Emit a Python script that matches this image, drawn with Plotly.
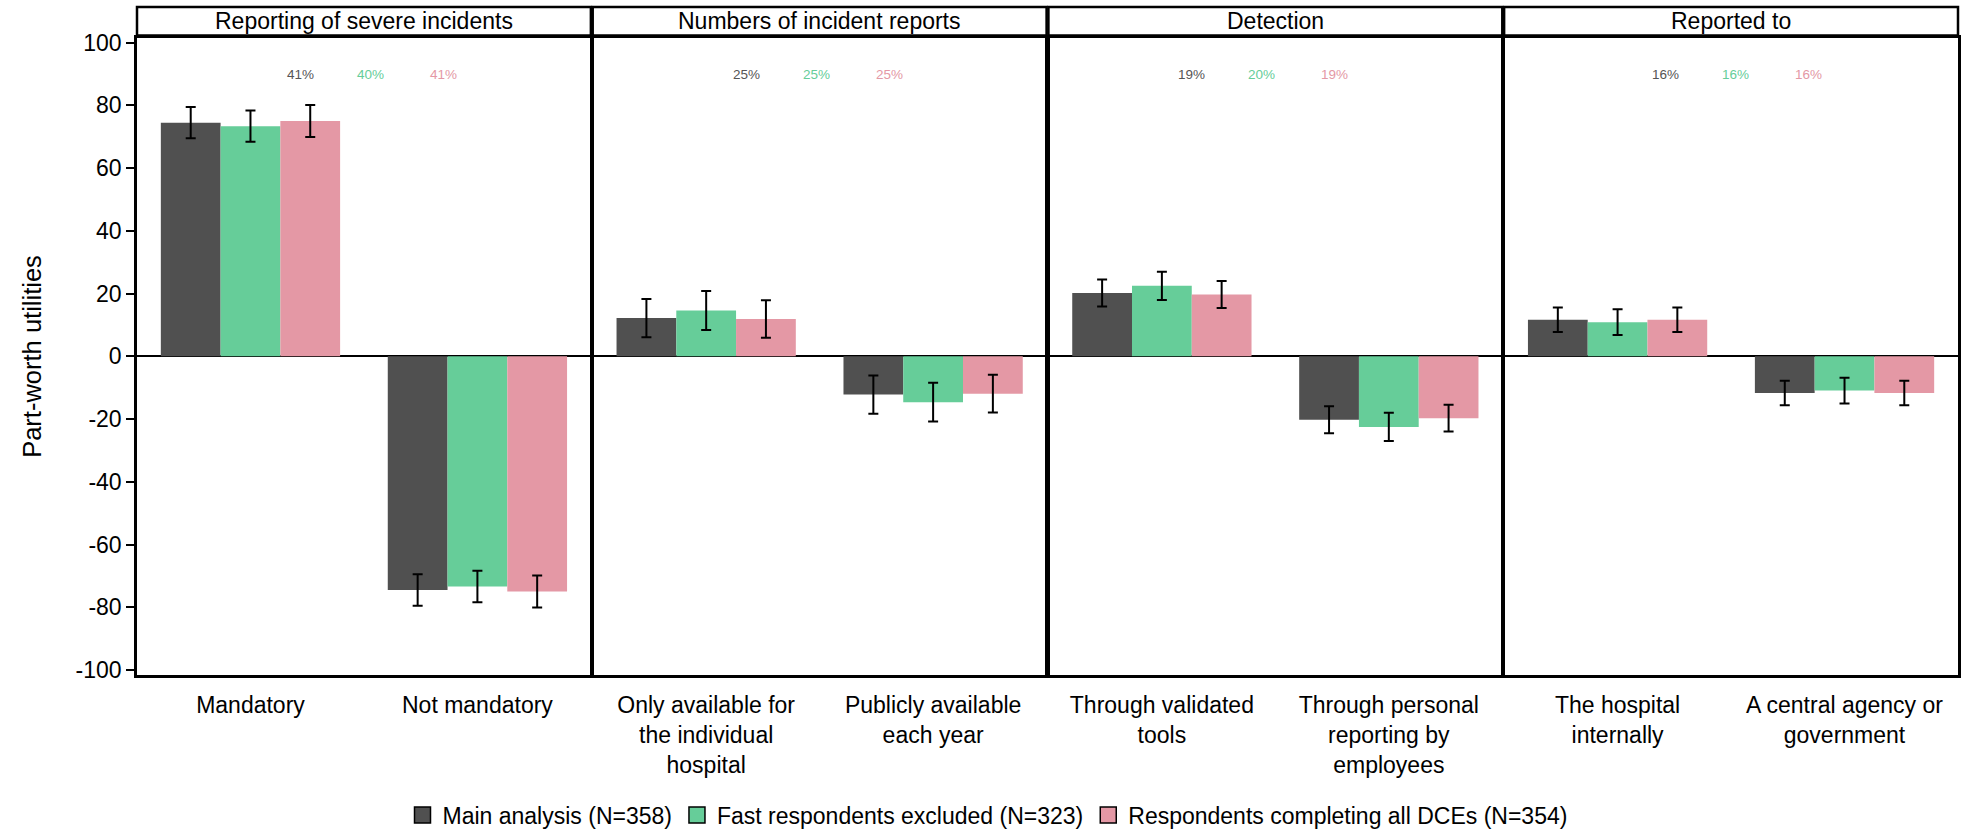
import plotly.graph_objects as go
from plotly.subplots import make_subplots

# Attributes (facets) and their levels
attributes = ["Reporting of severe incidents", "Numbers of incident reports",
              "Detection", "Reported to"]
levels = [
    ["Mandatory", "Not mandatory"],
    ["Only available for<br>the individual<br>hospital", "Publicly available<br>each year"],
    ["Through validated<br>tools", "Through personal<br>reporting by<br>employees"],
    ["The hospital<br>internally", "A central agency or<br>government"],
]

# Series names
series_names = ["Main analysis (N=358)", "Fast respondents excluded (N=323)",
                "Respondents completing all DCEs (N=354)"]

# Part-worth utilities, two levels per attribute, in attribute order
main_util = [74.5, -74.5, 12.2, -12.2, 20.2, -20.2, 11.7, -11.7]
fast_util = [73.4, -73.4, 14.6, -14.6, 22.5, -22.5, 10.9, -10.9]
complete_util = [75.0, -75.0, 11.9, -11.9, 19.7, -19.7, 11.7, -11.7]

# 95% CI half-widths
main_ci = [5.0, 5.0, 6.1, 6.1, 4.3, 4.3, 3.9, 3.9]
fast_ci = [5.0, 5.0, 6.2, 6.2, 4.5, 4.5, 4.1, 4.1]
complete_ci = [5.1, 5.1, 6.0, 6.0, 4.3, 4.3, 3.9, 3.9]

# Relative attribute importance (%)
main_imp = [41, 25, 19, 16]
fast_imp = [40, 25, 20, 16]
complete_imp = [41, 25, 19, 16]

y_ticks = [-100, -80, -60, -40, -20, 0, 20, 40, 60, 80, 100]
y_ticktext = ["-100", "-80", "-60", "-40", "-20", "0", "20", "40", "60", "80", "100"]

utils = [main_util, fast_util, complete_util]
cis = [main_ci, fast_ci, complete_ci]
imps = [main_imp, fast_imp, complete_imp]
colors = ["#505050", "#66CD99", "#E498A5"]

FONT = "Liberation Sans, Arial, sans-serif"
FS = 23

fig = make_subplots(rows=1, cols=4, shared_yaxes=True, horizontal_spacing=0.001)

for i in range(len(attributes)):
    for s in range(len(series_names)):
        fig.add_trace(
            go.Bar(
                x=levels[i],
                y=utils[s][2 * i:2 * i + 2],
                marker=dict(color=colors[s], line=dict(width=0)),
                error_y=dict(type="data", array=cis[s][2 * i:2 * i + 2],
                             color="black", thickness=2, width=5),
                offsetgroup=str(s),
                name=series_names[s],
                showlegend=False,
            ),
            row=1, col=i + 1,
        )

# Legend entries with outlined square keys
for s in range(len(series_names)):
    fig.add_trace(
        go.Scatter(
            x=[None], y=[None], mode="markers", name=series_names[s],
            marker=dict(symbol="square", size=16, color=colors[s],
                        line=dict(color="black", width=1.5)),
            showlegend=True,
        ),
        row=1, col=1,
    )

plot_h = 833 - 38 - 158
label_anchor = [0.360, 0.338, 0.316, 0.355]
label_step = [0.0, 0.154, 0.315]

shapes = []
annotations = []
for i in range(len(attributes)):
    xname = "xaxis" if i == 0 else f"xaxis{i + 1}"
    d0, d1 = fig.layout[xname].domain
    # facet strip
    shapes.append(dict(type="rect", xref="paper", yref="paper",
                       x0=d0, x1=d1, y0=1 + 2.5 / plot_h, y1=1 + 31 / plot_h,
                       line=dict(color="black", width=2.5), fillcolor="white",
                       layer="above"))
    annotations.append(dict(text=attributes[i], xref="paper", yref="paper",
                            x=(d0 + d1) / 2, y=1 + 17 / plot_h,
                            xanchor="center", yanchor="middle", showarrow=False,
                            font=dict(family=FONT, size=FS, color="black")))
    # importance labels
    yref = "y" if i == 0 else f"y{i + 1}"
    for s in range(len(series_names)):
        annotations.append(dict(
            text=f"{imps[s][i]}%", xref="paper", yref=yref,
            x=d0 + (label_anchor[i] + label_step[s]) * (d1 - d0), y=90,
            xanchor="center", yanchor="middle", showarrow=False,
            font=dict(family=FONT, size=13.5, color=colors[s] if s else "#555555")))

fig.update_layout(
    width=1975, height=833,
    margin=dict(l=137, r=17, t=38, b=158),
    paper_bgcolor="white", plot_bgcolor="white",
    barmode="group", bargap=0.21, bargroupgap=0,
    font=dict(family=FONT, size=FS, color="black"),
    shapes=shapes, annotations=annotations,
    legend=dict(orientation="h", xref="container", x=0.5, xanchor="center",
                yref="container", y=18 / 833, yanchor="middle",
                font=dict(family=FONT, size=FS, color="black"),
                itemclick=False, itemdoubleclick=False),
)

fig.update_xaxes(showline=True, mirror=True, linecolor="black", linewidth=2.5,
                 ticks="", showgrid=False, zeroline=False,
                 tickfont=dict(family=FONT, size=FS, color="black"),
                 ticklabelstandoff=8, range=[-0.5, 1.5])
fig.update_yaxes(showline=True, mirror=True, linecolor="black", linewidth=2.5,
                 showgrid=False, zeroline=True, zerolinecolor="black",
                 zerolinewidth=1.5, range=[-101.6, 101.5],
                 tickvals=y_ticks, ticktext=y_ticktext, ticks="")
fig.update_yaxes(ticks="outside", ticklen=8, tickwidth=2, tickcolor="black",
                 tickfont=dict(family=FONT, size=FS, color="black"),
                 title=dict(text="Part-worth utilities", standoff=27,
                            font=dict(family=FONT, size=25.5, color="black")),
                 row=1, col=1)

fig.write_html("out.html")
